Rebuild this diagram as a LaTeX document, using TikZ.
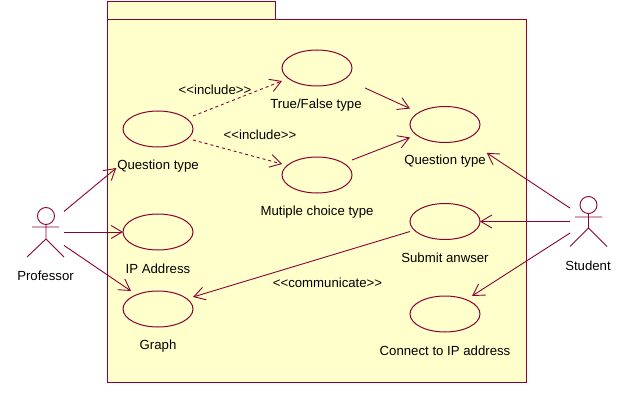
\documentclass[tikz,border=0pt]{standalone}
\usepackage{fontspec}
\setmainfont{Liberation Sans}
\usetikzlibrary{arrows.meta,shapes.geometric}

\definecolor{rosered}{HTML}{8C0038}
\definecolor{roseyellow}{HTML}{FFFFCB}

\tikzset{
	usecase/.style={draw=rosered, fill=roseyellow, line width=1pt, shape=ellipse, minimum width=70pt, minimum height=36pt, inner sep=0pt, outer sep=0pt},
	caption/.style={inner sep=0pt, outer sep=0pt, font=\fontsize{13.2}{15}\selectfont},
	actorbox/.style={inner sep=0pt, outer sep=0pt, minimum width=37pt, minimum height=50pt},
	assoc/.style={draw=rosered, line width=0.9pt, -{Straight Barb[length=11pt,width=13pt]}},
	incl/.style={assoc, dashed, dash pattern=on 3pt off 3pt}
}

\begin{document}
\begin{tikzpicture}[x=1pt, y=-1pt]
	\useasboundingbox (0,0) rectangle (626,401);

	% package
	\draw[draw=rosered, fill=roseyellow, line width=1pt] (107.5, 1.5) rectangle (275, 19.5);
	\draw[draw=rosered, fill=roseyellow, line width=1pt] (107.5, 19.5) rectangle (526, 382);

	% use cases
	\node[usecase] (qtype) at (158, 129) {};
	\node[usecase] (truefalse) at (317, 68) {};
	\node[usecase] (mchoice) at (317, 175) {};
	\node[usecase] (question) at (445, 124.5) {};
	\node[usecase] (ipaddr) at (158, 232) {};
	\node[usecase] (graph) at (158, 309) {};
	\node[usecase] (submit) at (445, 221.5) {};
	\node[usecase] (connect) at (445, 314) {};

	% labels
	\node[caption] (qtypelabel) at (158, 166) {Question type};
	\node[caption] (truefalselabel) at (316, 105) {True/False type};
	\node[caption] (mchoicelabel) at (317, 212) {Mutiple choice type};
	\node[caption] (questionlabel) at (445, 161) {Question type};
	\node[caption] (ipaddrlabel) at (158, 269) {IP Address};
	\node[caption] (graphlabel) at (158, 346) {Graph};
	\node[caption] (submitlabel) at (445, 258) {Submit anwser};
	\node[caption] (connectlabel) at (445, 351) {Connect to IP address};
	\node[caption] (proflabel) at (45.5, 276) {Professor};
	\node[caption] (studentlabel) at (588, 266) {Student};
	\node[caption] (include1) at (215, 90) {<{}<include>{}>};
	\node[caption] (include2) at (260, 135) {<{}<include>{}>};
	\node[caption] (communicate) at (327.5, 283) {<{}<communicate>{}>};

	% actors
	\node[actorbox] (prof) at (45.5, 232) {};
	\node[actorbox] (student) at (588.5, 221.5) {};

	% draw Professor
	\draw[draw=rosered, line width=0.9pt] (46, 216) circle (8.5)
	(32, 227) -- (59, 227)
	(46, 224.5) -- (46, 239)
	(46, 239) -- (27, 257)
	(46, 239) -- (64, 257);

	% draw Student
	\draw[draw=rosered, line width=0.9pt] (588.5, 205) circle (8.5)
	(575, 217) -- (602, 217)
	(588.5, 213.5) -- (588.5, 228)
	(588.5, 228) -- (570, 246.5)
	(588.5, 228) -- (607, 246.5);

	% professor arrows
	\draw[assoc] (prof.48) -- ([xshift=-1pt,yshift=-2pt]qtypelabel.west);
	\draw[assoc] (prof.east) -- (ipaddr.west);
	\draw[assoc] (prof.-36) -- ([xshift=-27pt]graph.north);

	% student arrows
	\draw[assoc] (student.144) -- ([xshift=1pt,yshift=2pt]questionlabel.north east);
	\draw[assoc] (student.west) -- (submit.east);
	\draw[assoc] (student.212) -- ([xshift=27pt]connect.north);

	% includes
	\draw[incl] ([yshift=13pt]qtype.east) -- ([yshift=-13pt]truefalse.west);
	\draw[incl] ([yshift=-11pt]qtype.east) -- ([yshift=11pt]mchoice.west);

	% generalisation to question type
	\draw[assoc] ([xshift=13pt,yshift=-20pt]truefalse.east) -- ([yshift=16pt]question.west);
	\draw[assoc] ([yshift=15pt]mchoice.east) -- ([yshift=-13pt]question.west);

	% communicate
	\draw[assoc] ([yshift=-10pt]submit.west) -- ([yshift=12pt]graph.east);

\end{tikzpicture}
\end{document}
